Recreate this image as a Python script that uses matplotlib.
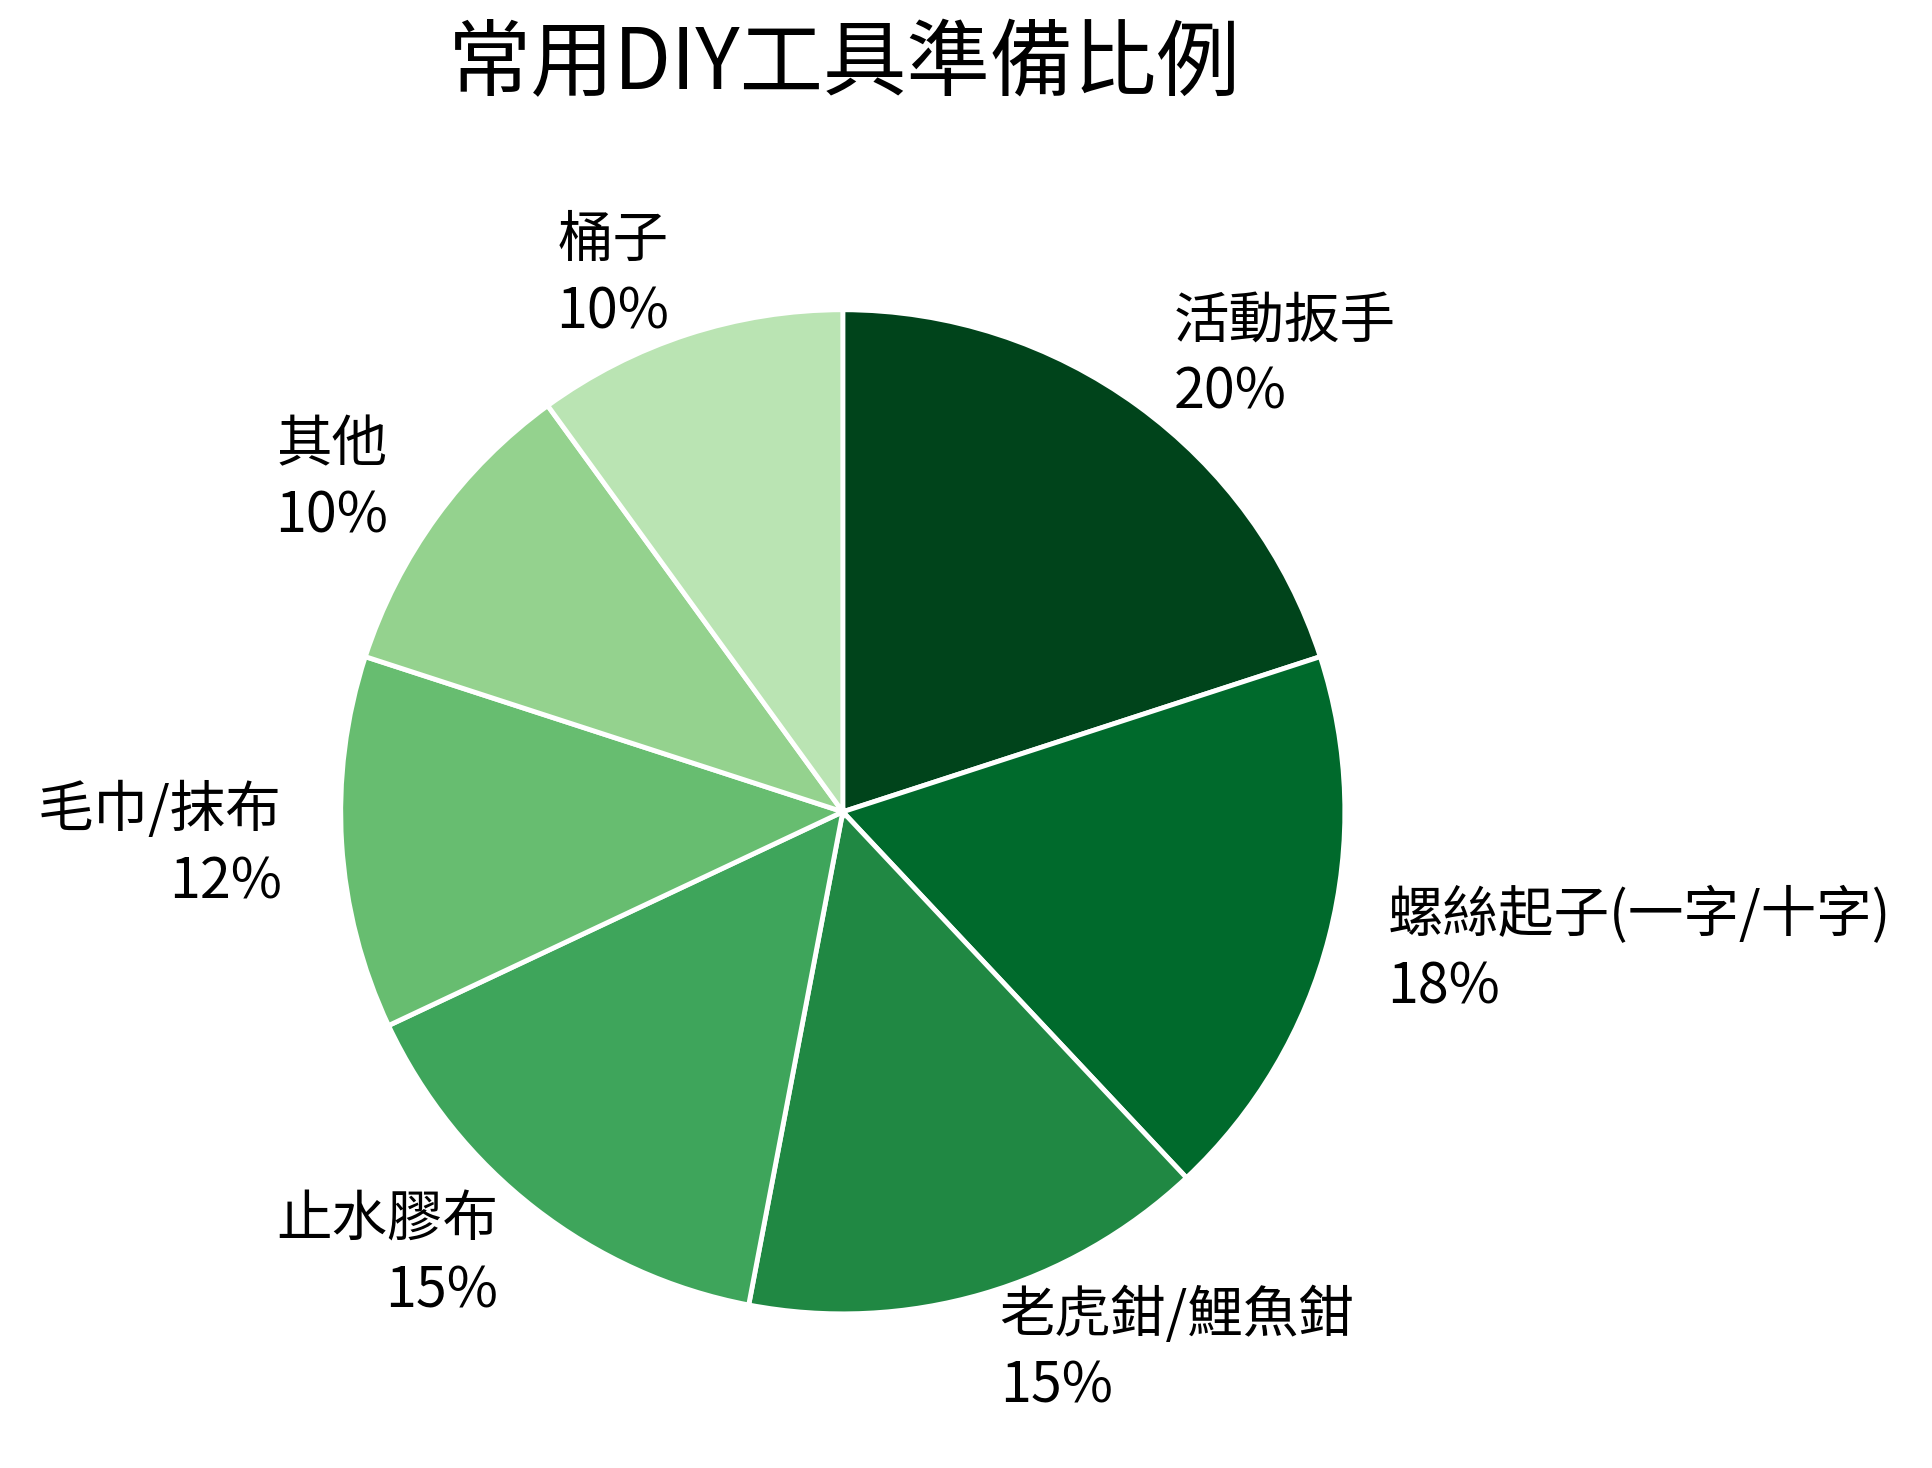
import matplotlib
matplotlib.use("Agg")
import matplotlib.pyplot as plt

plt.rcParams['font.family'] = ['Noto Sans CJK TC', 'DejaVu Sans']

# data
labels = ["活動扳手", "螺絲起子(一字/十字)", "老虎鉗/鯉魚鉗", "止水膠布", "毛巾/抹布", "其他", "桶子"]
values = [20, 18, 15, 15, 12, 10, 10]
colors = ["#00441b", "#006a2c", "#208843", "#3ea55b", "#67bd70", "#94d28e", "#bae4b3"]

fig = plt.figure(figsize=(19.33, 14.68), dpi=100)
ax = fig.add_axes([0.176, 0.105, 0.52, 0.684])

texts = [f"{l}\n{v}%" for l, v in zip(labels, values)]
ax.pie(values, labels=texts, colors=colors, startangle=90, counterclock=False,
       labeldistance=1.12, wedgeprops=dict(edgecolor="white", linewidth=3.5),
       textprops=dict(fontsize=40, linespacing=1.3))
ax.set_xlim(-1, 1)
ax.set_ylim(-1, 1)
ax.set_aspect("equal")

fig.suptitle("常用DIY工具準備比例", fontsize=60, x=0.437, y=0.985)

fig.savefig("out.png", dpi=100)
